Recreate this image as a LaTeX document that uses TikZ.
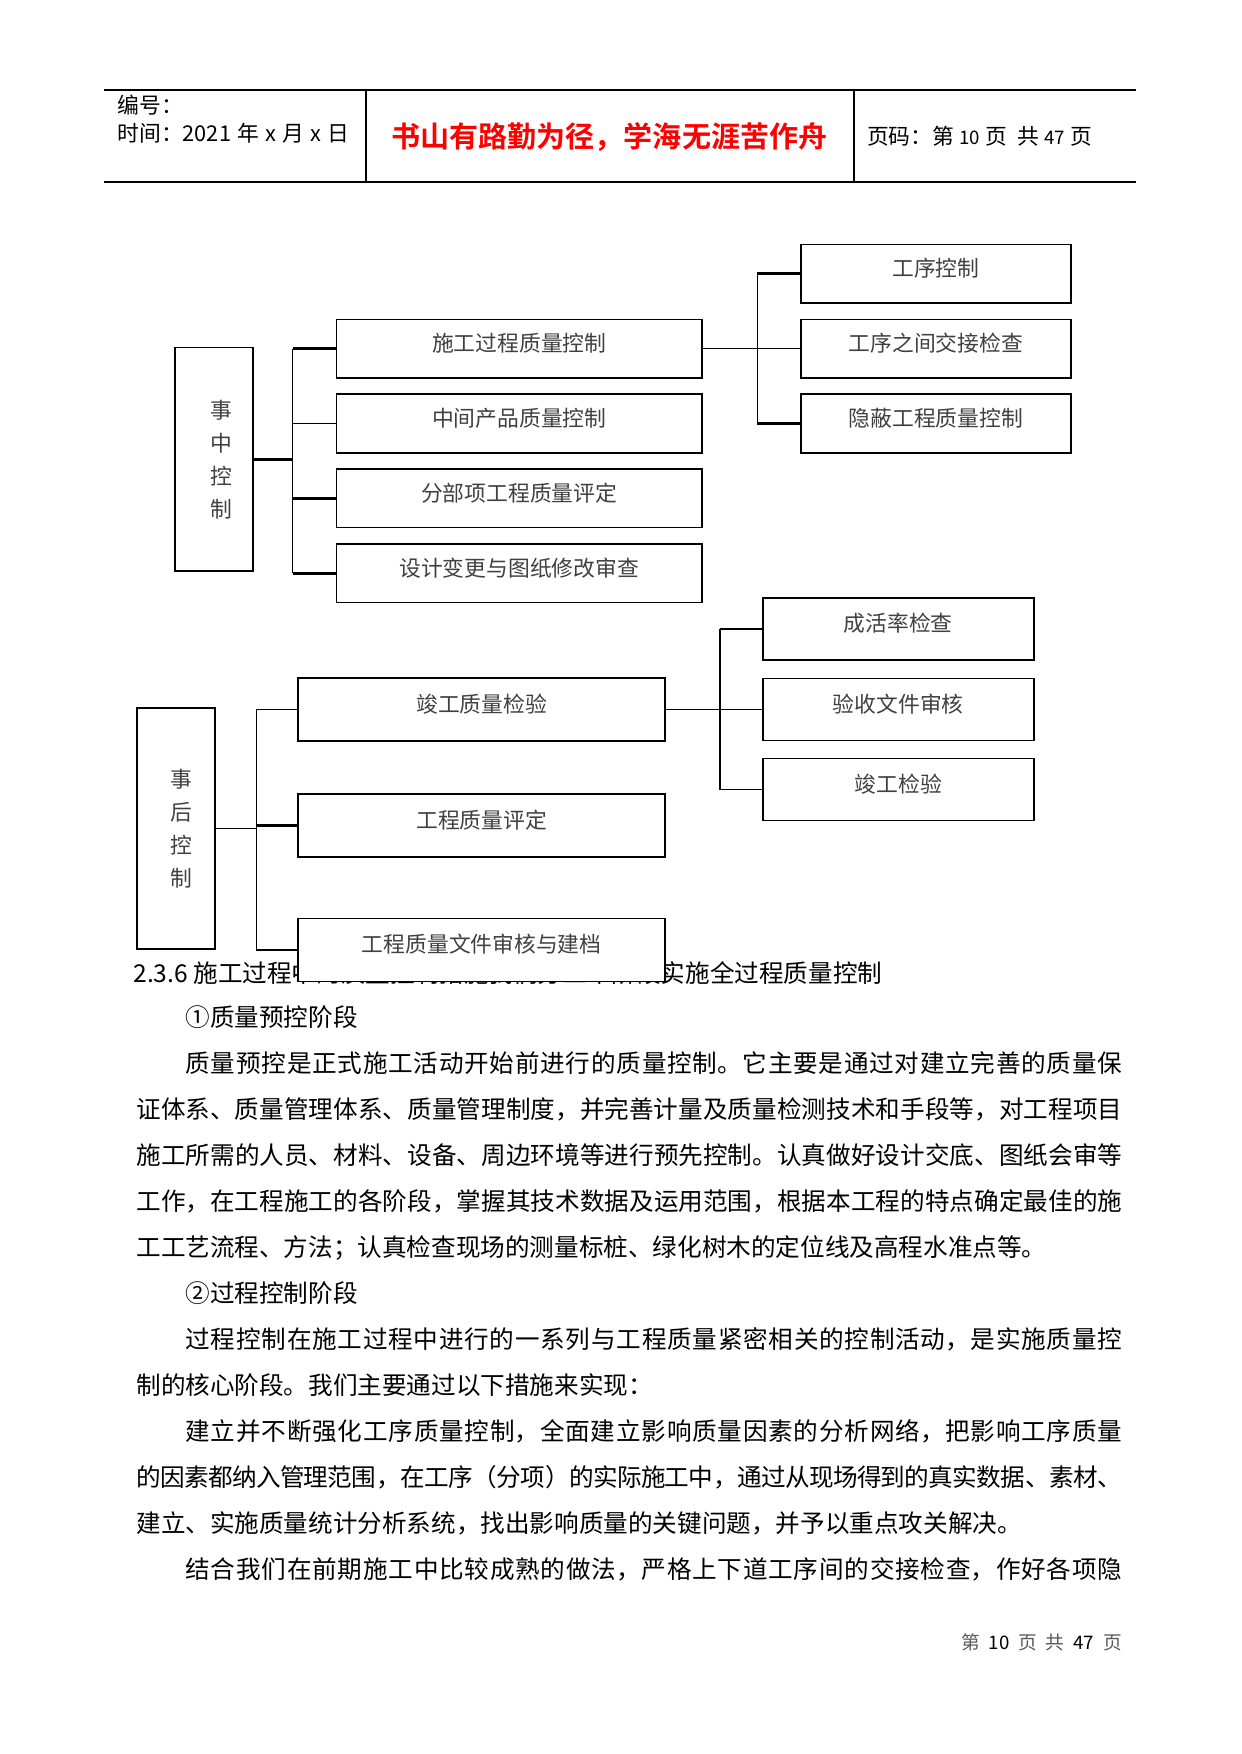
\documentclass[tikz,border=0pt]{standalone}
\usepackage{fontspec}
\setmainfont{Noto Sans CJK SC}
\newfontfamily\mottofont{Noto Sans CJK SC Bold}
\XeTeXlinebreaklocale "zh"
\XeTeXlinebreakskip=0pt plus 2pt minus 0.4pt
\definecolor{mottored}{RGB}{255, 0, 0}
\definecolor{chartgray}{RGB}{64, 64, 64}

\begin{document}
\begin{tikzpicture}[
  x=0.4818pt, y=-0.4818pt,
  sidebox/.style={draw, line width=0.8pt, fill=white, inner sep=0pt, minimum width=37.7pt},
  sidetext/.style={align=center, inner sep=0pt, text=chartgray, font=\fontsize{10.5pt}{15.9pt}\selectfont},
  itembox/.style={draw, line width=0.8pt, fill=white, inner sep=0pt, text=chartgray, font=\fontsize{10.5pt}{12pt}\selectfont, text height=0.83em, text depth=0.57em},
  link/.style={line width=0.6pt},
  boldlink/.style={line width=1.3pt},
  headtext/.style={anchor=west, inner sep=0pt, font=\fontsize{10.5pt}{12pt}\selectfont, text height=0.83em, text depth=0.07em},
  bodyline/.style={anchor=west, inner sep=0pt, font=\fontsize{11.85pt}{14pt}\selectfont, text height=0.83em, text depth=0.07em}
]
  \path[fill=white, use as bounding box] (0,0) rectangle (1241,1754);

  % page header
  \draw[line width=0.5pt] (104,90) -- (1136,90);
  \draw[line width=0.5pt] (104,182) -- (1136,182);
  \draw[line width=0.9pt] (366,90) -- (366,182);
  \draw[line width=0.5pt] (854,90) -- (854,182);
  \node[headtext] (serial) at (117,105.7) {编号：};
  \node[headtext] (date) at (117,133.3) {时间：2021\hspace{3pt}年\hspace{3pt}x\hspace{3pt}月\hspace{3pt}x\hspace{3pt}日};
  \node[inner sep=0pt, text=mottored, font=\mottofont\fontsize{14pt}{16pt}\selectfont] (motto) at (609.4,136.6) {书山有路勤为径，学海无涯苦作舟};
  \node[headtext] (pageno) at (866.6,136.6) {页码：第\hspace{2.5pt}{\fontsize{9pt}{10pt}\selectfont 10}\hspace{2.5pt}页\hspace{5pt}共\hspace{2.5pt}{\fontsize{9pt}{10pt}\selectfont 47}\hspace{2.5pt}页};

  % body text
  \node[bodyline] (heading) at (133,975) {2.3.6 施工过程中的质量控制措施我们分三个阶段实施全过程质量控制};
  \node[bodyline] (stage1) at (136,1019) {\hspace*{2em}①质量预控阶段};
  \node[bodyline] (p1a) at (136,1065) {\parbox[b]{475pt}{\parfillskip=0pt \hspace*{2em}质量预控是正式施工活动开始前进行的质量控制。它主要是通过对建立完善的质量保}};
  \node[bodyline] (p1b) at (136,1111) {\parbox[b]{475pt}{\parfillskip=0pt 证体系、质量管理体系、质量管理制度，并完善计量及质量检测技术和手段等，对工程项目}};
  \node[bodyline] (p1c) at (136,1157) {\parbox[b]{475pt}{\parfillskip=0pt 施工所需的人员、材料、设备、周边环境等进行预先控制。认真做好设计交底、图纸会审等}};
  \node[bodyline] (p1d) at (136,1203) {\parbox[b]{475pt}{\parfillskip=0pt 工作，在工程施工的各阶段，掌握其技术数据及运用范围，根据本工程的特点确定最佳的施}};
  \node[bodyline] (p1e) at (136,1249) {工工艺流程、方法；认真检查现场的测量标桩、绿化树木的定位线及高程水准点等。};
  \node[bodyline] (stage2) at (136,1295) {\hspace*{2em}②过程控制阶段};
  \node[bodyline] (p2a) at (136,1341) {\parbox[b]{475pt}{\parfillskip=0pt \hspace*{2em}过程控制在施工过程中进行的一系列与工程质量紧密相关的控制活动，是实施质量控}};
  \node[bodyline] (p2b) at (136,1387) {制的核心阶段。我们主要通过以下措施来实现：};
  \node[bodyline] (p3a) at (136,1433) {\parbox[b]{475pt}{\parfillskip=0pt \hspace*{2em}建立并不断强化工序质量控制，全面建立影响质量因素的分析网络，把影响工序质量}};
  \node[bodyline] (p3b) at (136,1479) {\parbox[b]{475pt}{\parfillskip=0pt 的因素都纳入管理范围，在工序（分项）的实际施工中，通过从现场得到的真实数据、素材、}};
  \node[bodyline] (p3c) at (136,1525) {建立、实施质量统计分析系统，找出影响质量的关键问题，并予以重点攻关解决。};
  \node[bodyline] (p4a) at (136,1571) {\parbox[b]{475pt}{\parfillskip=0pt \hspace*{2em}结合我们在前期施工中比较成熟的做法，严格上下道工序间的交接检查，作好各项隐}};

  % in-process control
  \node[sidebox, minimum height=107.7pt] (during) at (214.1,459.3) {};
  \node[sidetext] (duringtxt) at (221.6,459.3) {事\\中\\控\\制};
  \node[itembox, minimum width=176.1pt, minimum height=28.2pt] (d1) at (519.2,348.6) {施工过程质量控制};
  \node[itembox, minimum width=176.1pt, minimum height=28.2pt] (d2) at (519.2,423.5) {中间产品质量控制};
  \node[itembox, minimum width=176.1pt, minimum height=28.2pt] (d3) at (519.2,498.4) {分部项工程质量评定};
  \node[itembox, minimum width=176.1pt, minimum height=28.2pt] (d4) at (519.2,573.3) {设计变更与图纸修改审查};
  \node[itembox, minimum width=130pt, minimum height=28.2pt] (r1) at (935.9,273.7) {工序控制};
  \node[itembox, minimum width=130pt, minimum height=28.2pt] (r2) at (935.9,348.6) {工序之间交接检查};
  \node[itembox, minimum width=130pt, minimum height=28.2pt] (r3) at (935.9,423.5) {隐蔽工程质量控制};
  \coordinate (dj) at (292.8,459.3);
  \coordinate (dk) at (757.4,348.6);
  \draw[boldlink] (during.east) -- (dj);
  \draw[link] (dj |- d1.west) -- (dj |- d4.west);
  \draw[boldlink] (dj |- d1.west) -- (d1.west);
  \draw[link] (dj |- d2.west) -- (d2.west);
  \draw[boldlink] (dj |- d3.west) -- (d3.west);
  \draw[boldlink] (dj |- d4.west) -- (d4.west);
  \draw[link] (d1.east) -- (r2.west);
  \draw[link] (dk |- r1.west) -- (dk |- r3.west);
  \draw[boldlink] (dk |- r1.west) -- (r1.west);
  \draw[boldlink] (dk |- r3.west) -- (r3.west);

  % after-the-fact control
  \node[sidebox, minimum height=116.1pt] (after) at (176.2,828.5) {};
  \node[sidetext] (aftertxt) at (181.6,828.5) {事\\后\\控\\制};
  \node[itembox, minimum width=176.7pt, minimum height=30.35pt] (a1) at (481.7,709.5) {竣工质量检验};
  \node[itembox, minimum width=176.7pt, minimum height=30.35pt] (a2) at (481.7,825.5) {工程质量评定};
  \node[itembox, minimum width=176.7pt, minimum height=30.35pt] (a3) at (481.7,950) {工程质量文件审核与建档};
  \node[itembox, minimum width=130.6pt, minimum height=29.9pt] (s1) at (898.2,629) {成活率检查};
  \node[itembox, minimum width=130.6pt, minimum height=29.9pt] (s2) at (898.2,709.5) {验收文件审核};
  \node[itembox, minimum width=130.6pt, minimum height=29.9pt] (s3) at (898.2,789.5) {竣工检验};
  \coordinate (aj) at (256.2,828.5);
  \coordinate (ak) at (720,709.5);
  \draw[link] (after.east) -- (aj);
  \draw[link] (aj |- a1.west) -- (aj |- a3.west);
  \draw[link] (aj |- a1.west) -- (a1.west);
  \draw[boldlink] (aj |- a2.west) -- (a2.west);
  \draw[link] (aj |- a3.west) -- (a3.west);
  \draw[link] (a1.east) -- (s2.west);
  \draw[link] (ak |- s1.west) -- (ak |- s3.west);
  \draw[boldlink] (ak |- s1.west) -- (s1.west);
  \draw[link] (ak |- s3.west) -- (s3.west);

  % page footer
  \node[inner sep=0pt, font=\fontsize{9pt}{10pt}\selectfont] (footer) at (1041.5,1642) {\textcolor{black!65}{第}\hspace{4.3pt}10\hspace{4.3pt}\textcolor{black!65}{页}\hspace{4.3pt}\textcolor{black!65}{共}\hspace{4.3pt}47\hspace{4.3pt}\textcolor{black!65}{页}};
\end{tikzpicture}
\end{document}
